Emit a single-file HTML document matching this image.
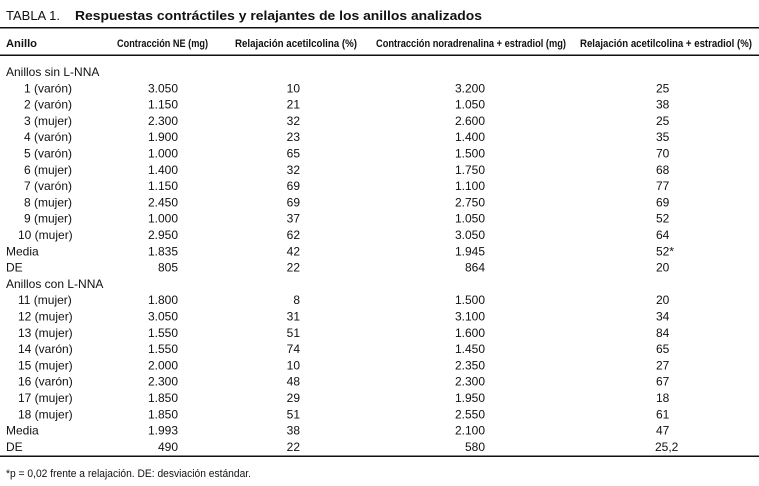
<!DOCTYPE html>
<html><head><meta charset="utf-8"><style>
html,body{margin:0;padding:0;background:#fff;}
svg{display:block;}
text{font-family:"Liberation Sans",sans-serif;font-size:12px;fill:#111;}
.h{font-weight:bold;font-size:11px;}
.r{text-anchor:end;}
</style></head><body>
<svg width="759" height="486" viewBox="0 0 759 486" xmlns="http://www.w3.org/2000/svg">
<text x="6" y="20" style="font-size:13px">TABLA 1.</text>
<text x="75" y="20" style="font-size:13px;font-weight:bold" textLength="407" lengthAdjust="spacingAndGlyphs">Respuestas contráctiles y relajantes de los anillos analizados</text>
<rect x="0" y="27" width="759" height="1.5" fill="#111"/>
<text class="h" x="6" y="47" textLength="31" lengthAdjust="spacingAndGlyphs">Anillo</text>
<text class="h" x="117" y="47" textLength="91" lengthAdjust="spacingAndGlyphs">Contracción NE (mg)</text>
<text class="h" x="235" y="47" textLength="122" lengthAdjust="spacingAndGlyphs">Relajación acetilcolina (%)</text>
<text class="h" x="376" y="47" textLength="190" lengthAdjust="spacingAndGlyphs">Contracción noradrenalina + estradiol (mg)</text>
<text class="h" x="580" y="47" textLength="172" lengthAdjust="spacingAndGlyphs">Relajación acetilcolina + estradiol (%)</text>
<rect x="0" y="54.5" width="759" height="1.5" fill="#111"/>

<g>
<text x="6" y="76">Anillos sin L-NNA</text>
<text x="24" y="92.3">1 (varón)</text><text class="r" x="178" y="92.3">3.050</text><text class="r" x="300" y="92.3">10</text><text class="r" x="485" y="92.3">3.200</text><text x="656" y="92.3">25</text>
<text x="24" y="108.6">2 (varón)</text><text class="r" x="178" y="108.6">1.150</text><text class="r" x="300" y="108.6">21</text><text class="r" x="485" y="108.6">1.050</text><text x="656" y="108.6">38</text>
<text x="24" y="124.9">3 (mujer)</text><text class="r" x="178" y="124.9">2.300</text><text class="r" x="300" y="124.9">32</text><text class="r" x="485" y="124.9">2.600</text><text x="656" y="124.9">25</text>
<text x="24" y="141.2">4 (varón)</text><text class="r" x="178" y="141.2">1.900</text><text class="r" x="300" y="141.2">23</text><text class="r" x="485" y="141.2">1.400</text><text x="656" y="141.2">35</text>
<text x="24" y="157.5">5 (varón)</text><text class="r" x="178" y="157.5">1.000</text><text class="r" x="300" y="157.5">65</text><text class="r" x="485" y="157.5">1.500</text><text x="656" y="157.5">70</text>
<text x="24" y="173.8">6 (mujer)</text><text class="r" x="178" y="173.8">1.400</text><text class="r" x="300" y="173.8">32</text><text class="r" x="485" y="173.8">1.750</text><text x="656" y="173.8">68</text>
<text x="24" y="190.1">7 (varón)</text><text class="r" x="178" y="190.1">1.150</text><text class="r" x="300" y="190.1">69</text><text class="r" x="485" y="190.1">1.100</text><text x="656" y="190.1">77</text>
<text x="24" y="206.4">8 (mujer)</text><text class="r" x="178" y="206.4">2.450</text><text class="r" x="300" y="206.4">69</text><text class="r" x="485" y="206.4">2.750</text><text x="656" y="206.4">69</text>
<text x="24" y="222.7">9 (mujer)</text><text class="r" x="178" y="222.7">1.000</text><text class="r" x="300" y="222.7">37</text><text class="r" x="485" y="222.7">1.050</text><text x="656" y="222.7">52</text>
<text x="18" y="239">10 (mujer)</text><text class="r" x="178" y="239">2.950</text><text class="r" x="300" y="239">62</text><text class="r" x="485" y="239">3.050</text><text x="656" y="239">64</text>
<text x="6" y="255.3">Media</text><text class="r" x="178" y="255.3">1.835</text><text class="r" x="300" y="255.3">42</text><text class="r" x="485" y="255.3">1.945</text><text x="656" y="255.3">52*</text>
<text x="6" y="271.6">DE</text><text class="r" x="178" y="271.6">805</text><text class="r" x="300" y="271.6">22</text><text class="r" x="485" y="271.6">864</text><text x="656" y="271.6">20</text>
<text x="6" y="287.9">Anillos con L-NNA</text>
<text x="18" y="304.2">11 (mujer)</text><text class="r" x="178" y="304.2">1.800</text><text class="r" x="300" y="304.2">8</text><text class="r" x="485" y="304.2">1.500</text><text x="656" y="304.2">20</text>
<text x="18" y="320.5">12 (mujer)</text><text class="r" x="178" y="320.5">3.050</text><text class="r" x="300" y="320.5">31</text><text class="r" x="485" y="320.5">3.100</text><text x="656" y="320.5">34</text>
<text x="18" y="336.8">13 (mujer)</text><text class="r" x="178" y="336.8">1.550</text><text class="r" x="300" y="336.8">51</text><text class="r" x="485" y="336.8">1.600</text><text x="656" y="336.8">84</text>
<text x="18" y="353.1">14 (varón)</text><text class="r" x="178" y="353.1">1.550</text><text class="r" x="300" y="353.1">74</text><text class="r" x="485" y="353.1">1.450</text><text x="656" y="353.1">65</text>
<text x="18" y="369.4">15 (mujer)</text><text class="r" x="178" y="369.4">2.000</text><text class="r" x="300" y="369.4">10</text><text class="r" x="485" y="369.4">2.350</text><text x="656" y="369.4">27</text>
<text x="18" y="385.7">16 (varón)</text><text class="r" x="178" y="385.7">2.300</text><text class="r" x="300" y="385.7">48</text><text class="r" x="485" y="385.7">2.300</text><text x="656" y="385.7">67</text>
<text x="18" y="402">17 (mujer)</text><text class="r" x="178" y="402">1.850</text><text class="r" x="300" y="402">29</text><text class="r" x="485" y="402">1.950</text><text x="656" y="402">18</text>
<text x="18" y="418.3">18 (mujer)</text><text class="r" x="178" y="418.3">1.850</text><text class="r" x="300" y="418.3">51</text><text class="r" x="485" y="418.3">2.550</text><text x="656" y="418.3">61</text>
<text x="6" y="434.6">Media</text><text class="r" x="178" y="434.6">1.993</text><text class="r" x="300" y="434.6">38</text><text class="r" x="485" y="434.6">2.100</text><text x="656" y="434.6">47</text>
<text x="6" y="450.9">DE</text><text class="r" x="178" y="450.9">490</text><text class="r" x="300" y="450.9">22</text><text class="r" x="485" y="450.9">580</text><text x="655" y="450.9">25,2</text>
</g>
<rect x="0" y="455.5" width="759" height="1.5" fill="#111"/>
<text x="6" y="477" style="font-size:11px" textLength="245" lengthAdjust="spacingAndGlyphs">*p = 0,02 frente a relajación. DE: desviación estándar.</text>
</svg>
</body></html>
